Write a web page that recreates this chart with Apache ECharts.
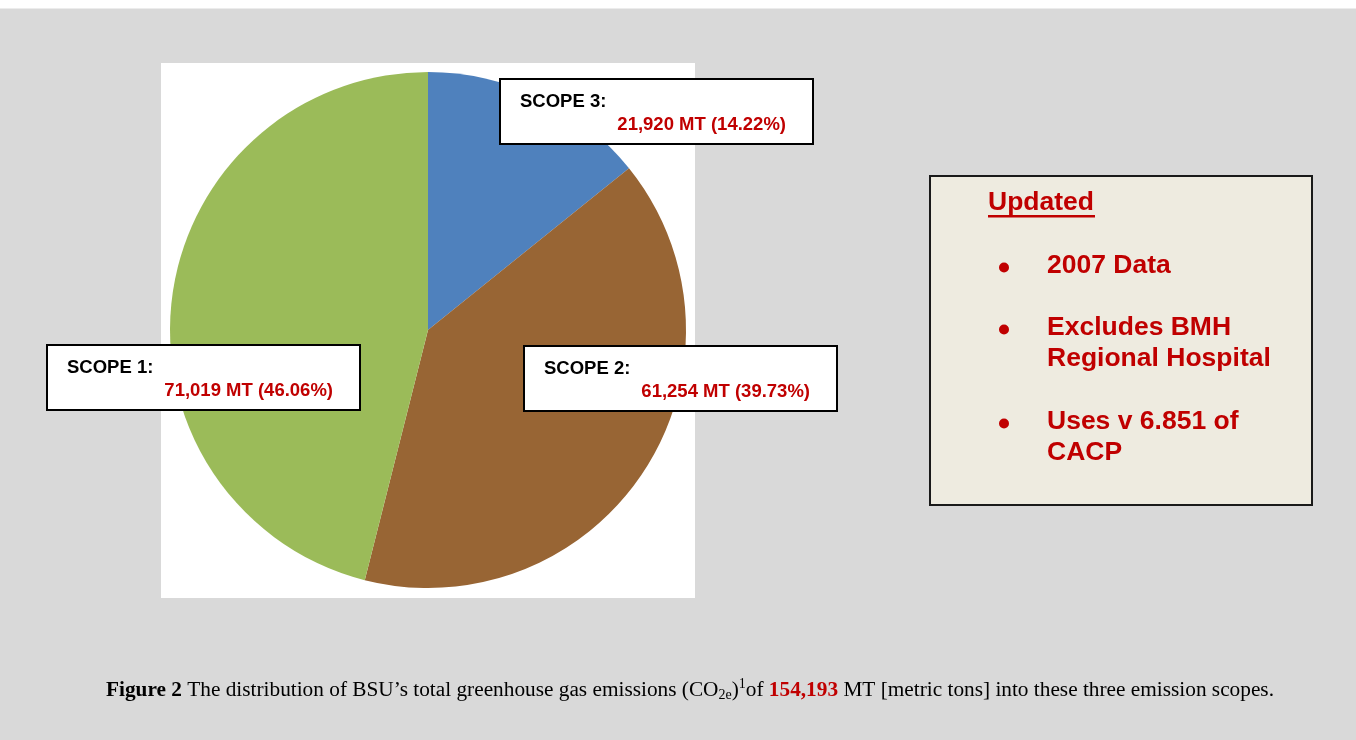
<!DOCTYPE html>
<html>
<head>
<meta charset="utf-8">
<script src="https://cdn.jsdelivr.net/npm/echarts@6/dist/echarts.min.js"></script>
<style>
  html, body { margin: 0; padding: 0; background: #fff; }
  #chart { width: 1356px; height: 740px; }
</style>
</head>
<body>
<div id="chart"></div>
<script>
// emission scopes, clockwise from 12 o'clock
const scopes = ['SCOPE 3', 'SCOPE 2', 'SCOPE 1'];
const tons = [21920, 61254, 71019];
const sliceColors = ['#4f81bd', '#986534', '#9bbb59'];

// side note box
const noteTitle = 'Updated';
const notes = [
    ['2007 Data'],
    ['Excludes BMH', 'Regional Hospital'],
    ['Uses v 6.851 of', 'CACP']
];

// where each label box sits (top-left), same order as scopes
const labelBoxes = [[501, 80], [525, 347], [48, 346]];

const RED = '#c00000';
const SANS = '"Liberation Sans", Arial, sans-serif';
const SERIF = '"Liberation Serif", "Times New Roman", serif';

const fmt = v => v.toLocaleString('en-US');
const total = tons.reduce((a, b) => a + b, 0);
// plain rounding, not the largest-remainder one echarts uses
const pct = v => (v / total * 100).toFixed(2);

const chart = echarts.init(document.getElementById('chart'));

// note box texts
const noteEls = [];
const noteBaselines = [275, 337, 431];
notes.forEach((lines, i) => {
    const base = noteBaselines[i];
    noteEls.push({
        type: 'circle',
        shape: { cx: 1004, cy: base - 7.5, r: 5 },
        style: { fill: RED }
    });
    lines.forEach((t, j) => {
        noteEls.push({
            type: 'text',
            x: 1047,
            y: base + j * 31 - 9,
            style: {
                text: t, fill: RED, font: 'bold 26.5px ' + SANS,
                align: 'left', verticalAlign: 'middle'
            }
        });
    });
});

const option = {
    animation: false,
    graphic: [
        { type: 'rect', shape: { x: 0, y: 8, width: 1356, height: 1 }, style: { fill: '#ececec' } },
        { type: 'rect', shape: { x: 0, y: 9, width: 1356, height: 731 }, style: { fill: '#d9d9d9' } },
        { type: 'rect', shape: { x: 161, y: 63, width: 534, height: 535 }, style: { fill: '#fff' } },
        {
            type: 'rect',
            shape: { x: 930, y: 176, width: 382, height: 329 },
            style: { fill: '#eeebe0', stroke: '#1a1a1a', lineWidth: 2 }
        },
        {
            type: 'text', x: 988, y: 203,
            style: { text: noteTitle, fill: RED, font: 'bold 26.5px ' + SANS, align: 'left', verticalAlign: 'middle' }
        },
        { type: 'rect', shape: { x: 988, y: 215, width: 107, height: 2.5 }, style: { fill: RED } },
        ...noteEls,
        {
            type: 'text', x: 690, y: 690,
            style: {
                text: '{b|Figure 2} The distribution of BSU\u2019s total greenhouse gas emissions (CO{sub|2e}){sup|1}of {r|' +
                    fmt(total) + '} MT [metric tons] into these three emission scopes.',
                font: '21.3px ' + SERIF, fill: '#000', lineHeight: 25,
                align: 'center', verticalAlign: 'middle',
                rich: {
                    b: { font: 'bold 21.3px ' + SERIF, lineHeight: 25 },
                    r: { font: 'bold 21.3px ' + SERIF, fill: RED, lineHeight: 25 },
                    sub: { font: '14px ' + SERIF, lineHeight: 15, verticalAlign: 'bottom' },
                    sup: { font: '14px ' + SERIF, lineHeight: 19, verticalAlign: 'top' }
                }
            }
        }
    ],
    series: [{
        type: 'pie',
        center: [428, 330],
        radius: 258,
        startAngle: 90,
        clockwise: true,
        silent: true,
        emphasis: { disabled: true },
        labelLine: { show: false },
        label: {
            show: true,
            position: 'inside',
            backgroundColor: '#fff',
            borderColor: '#000',
            borderWidth: 2,
            padding: [10, 26, 7, 19],
            width: 266,
            formatter: p => '{n|' + p.name + ':}\n{v|' + fmt(p.value) + ' MT (' + pct(p.value) + '%)}',
            rich: {
                n: { fontFamily: SANS, fontWeight: 'bold', fontSize: 18.5, color: '#000', lineHeight: 23, align: 'left' },
                v: { fontFamily: SANS, fontWeight: 'bold', fontSize: 18.5, color: RED, lineHeight: 23, align: 'right' }
            }
        },
        labelLayout: p => {
            const b = labelBoxes[p.dataIndex];
            return { x: b[0], y: b[1], align: 'left', verticalAlign: 'top' };
        },
        data: scopes.map((s, i) => ({
            name: s,
            value: tons[i],
            itemStyle: { color: sliceColors[i] }
        }))
    }]
};

chart.setOption(option);
</script>
</body>
</html>
